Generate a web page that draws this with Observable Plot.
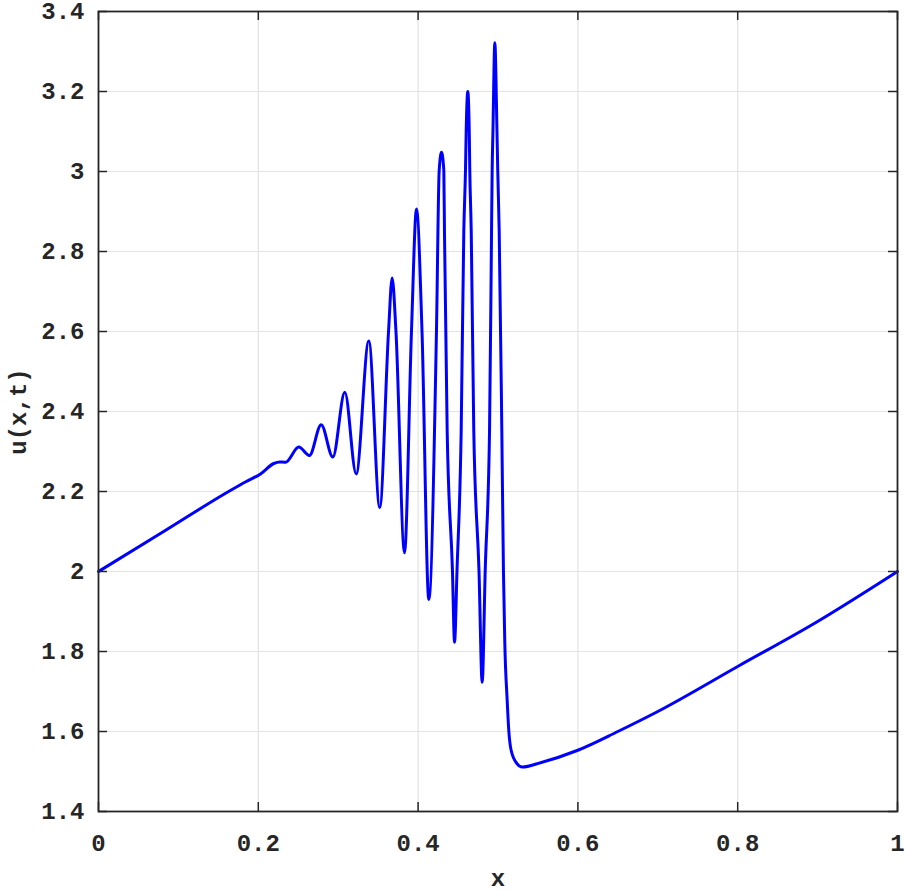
<!DOCTYPE html>
<html>
<head>
<meta charset="utf-8">
<script src="https://cdn.jsdelivr.net/npm/d3@7"></script>
<script src="https://cdn.jsdelivr.net/npm/@observablehq/plot@0.6"></script>
<style>
  html, body { margin: 0; padding: 0; background: #fff; }
  #chart svg { display: block; }
</style>
</head>
<body>
<div id="chart"></div>
<script>
// ---- data ----
const xValues = [
  0.000, 0.080, 0.165, 0.185, 0.2028, 0.2194, 0.227, 0.234,
  0.2507, 0.264, 0.2787, 0.2933, 0.3083, 0.3225, 0.3383, 0.352,
  0.3630, 0.3675, 0.3723, 0.383, 0.3917, 0.398, 0.4049, 0.4134,
  0.4230, 0.4264, 0.4293, 0.4322, 0.4330, 0.4364, 0.4430, 0.4456,
  0.4487, 0.4539, 0.4572, 0.4593, 0.4602, 0.4622,
  0.4640, 0.4647, 0.4665, 0.4697, 0.4762, 0.4802,
  0.4840, 0.4894, 0.4919, 0.4927, 0.4937, 0.4960,
  0.4987, 0.4997, 0.5015, 0.5048, 0.5068, 0.5085, 0.5115, 0.5135, 0.5165,
  0.5240, 0.5303, 0.5532, 0.5991, 0.65, 0.70, 0.80, 0.90, 1.00
];
const uValues = [
  2.000, 2.098, 2.2025, 2.225, 2.244, 2.270, 2.274, 2.273,
  2.311, 2.290, 2.367, 2.286, 2.448, 2.244, 2.576, 2.160,
  2.600, 2.734, 2.600, 2.047, 2.600, 2.906, 2.600, 1.930,
  2.6025, 3.0025, 3.048, 3.0025, 2.85, 2.35, 2.0025, 1.823,
  2.0025, 2.35, 2.85, 3.0025, 3.1025, 3.200,
  3.1025, 3.0025, 2.85, 2.35, 2.0025, 1.723,
  2.0025, 2.35, 2.85, 3.0025, 3.1025, 3.322,
  3.1025, 3.0025, 2.85, 2.35, 2.0025, 1.8225, 1.6775, 1.6025, 1.5525,
  1.519, 1.511, 1.522, 1.5525, 1.600, 1.650, 1.7625, 1.875, 2.000
];
const xTicks = [0, 0.2, 0.4, 0.6, 0.8, 1];
const yTicks = [1.4, 1.6, 1.8, 2, 2.2, 2.4, 2.6, 2.8, 3, 3.2, 3.4];
const xLabel = "x";
const yLabel = "u(x,t)";

const data = xValues.map((x, i) => ({x, u: uValues[i]}));

// ---- layout ----
const W = 905, H = 891;
const mL = 98, mR = 8, mT = 11, mB = 80;
const xDomain = [0, 1], yDomain = [1.4, 3.4];
const tickPx = 9;
const tx = tickPx / (W - mL - mR) * (xDomain[1] - xDomain[0]);
const ty = tickPx / (H - mT - mB) * (yDomain[1] - yDomain[0]);
const axisColor = "#262626";
const font = "'Liberation Mono', 'Courier New', monospace";

const chart = Plot.plot({
  width: W, height: H,
  marginLeft: mL, marginRight: mR, marginTop: mT, marginBottom: mB,
  style: {fontFamily: font, fontWeight: "bold", fontSize: "24px", color: axisColor, background: "#fff"},
  x: {domain: xDomain},
  y: {domain: yDomain},
  marks: [
    Plot.gridX(xTicks, {stroke: "#e3e3e3", strokeOpacity: 1, strokeWidth: 1.2}),
    Plot.gridY(yTicks, {stroke: "#e3e3e3", strokeOpacity: 1, strokeWidth: 1.2}),
    Plot.line(data, {x: "x", y: "u", stroke: "#0000ff", strokeWidth: 3, curve: "monotone-x"}),
    // inward ticks on all four sides
    Plot.ruleX(xTicks, {y1: yDomain[0], y2: yDomain[0] + ty, stroke: axisColor, strokeWidth: 1.5}),
    Plot.ruleX(xTicks, {y1: yDomain[1], y2: yDomain[1] - ty, stroke: axisColor, strokeWidth: 1.5}),
    Plot.ruleY(yTicks, {x1: xDomain[0], x2: xDomain[0] + tx, stroke: axisColor, strokeWidth: 1.5}),
    Plot.ruleY(yTicks, {x1: xDomain[1], x2: xDomain[1] - tx, stroke: axisColor, strokeWidth: 1.5}),
    Plot.frame({stroke: axisColor, strokeWidth: 1.8}),
    Plot.axisX(xTicks, {tickSize: 0, tickPadding: 22, tickFormat: d => String(d), label: null, fontSize: 24, fontWeight: "bold"}),
    Plot.axisY(yTicks, {tickSize: 0, tickPadding: 14, tickFormat: d => String(d), label: null, fontSize: 24, fontWeight: "bold"}),
    Plot.text([xLabel], {frameAnchor: "bottom", dy: 74, text: d => d, fontSize: 24, fontWeight: "bold", lineAnchor: "bottom", textAnchor: "middle"}),
    Plot.text([yLabel], {frameAnchor: "left", dx: -80, text: d => d, rotate: -90, fontSize: 24, fontWeight: "bold", lineAnchor: "middle", textAnchor: "middle"})
  ]
});
document.getElementById("chart").appendChild(chart);
</script>
</body>
</html>
